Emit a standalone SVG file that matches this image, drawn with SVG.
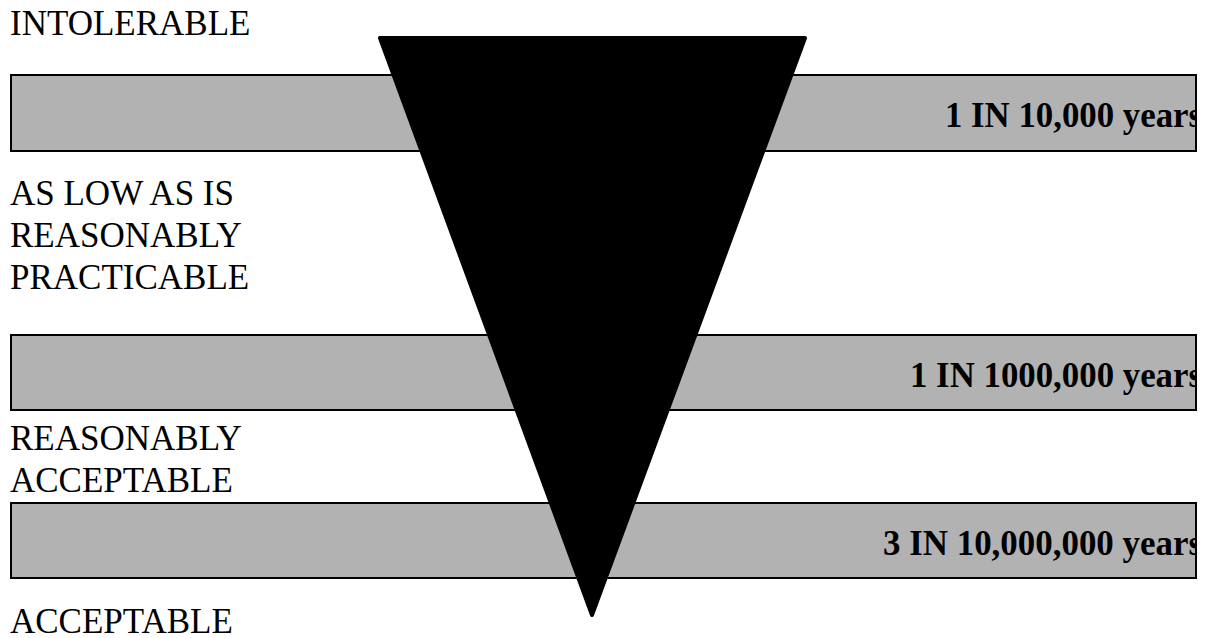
<svg xmlns="http://www.w3.org/2000/svg" width="1208" height="638" viewBox="0 0 1208 638">
<style>
.bar{fill:#b2b2b2;stroke:none}
.barb{fill:none;stroke:#000;stroke-width:2}
.lab{font-family:"Liberation Serif",serif;font-size:35px;fill:#000}
.val{font-family:"Liberation Serif",serif;font-size:35px;font-weight:bold;fill:#000}
</style>
<rect width="1208" height="638" fill="#fff"/>
<g id="bar1"><rect class="bar" x="11" y="75" width="1185" height="76"/></g>
<g id="bar2"><rect class="bar" x="11" y="335" width="1185" height="75"/></g>
<g id="bar3"><rect class="bar" x="11" y="503" width="1185" height="75"/></g>
<g id="triangle"><polygon points="380,38 805,38 592,615" fill="#000" stroke="#000" stroke-width="4" stroke-linejoin="round"/></g>
<g id="values">
<text class="val" x="945" y="127" textLength="257" lengthAdjust="spacingAndGlyphs">1 IN 10,000 years</text>
<text class="val" x="910" y="387" textLength="292" lengthAdjust="spacingAndGlyphs">1 IN 1000,000 years</text>
<text class="val" x="883" y="555" textLength="319" lengthAdjust="spacingAndGlyphs">3 IN 10,000,000 years</text>
</g>
<g id="borders">
<rect class="barb" x="11" y="75" width="1185" height="76"/>
<rect class="barb" x="11" y="335" width="1185" height="75"/>
<rect class="barb" x="11" y="503" width="1185" height="75"/>
</g>
<rect x="1197" y="60" width="11" height="530" fill="#fff"/>
<g id="labels">
<text class="lab" x="10" y="35">INTOLERABLE</text>
<text class="lab" x="10" y="205">AS LOW AS IS</text>
<text class="lab" x="10" y="247">REASONABLY</text>
<text class="lab" x="10" y="289">PRACTICABLE</text>
<text class="lab" x="10" y="450">REASONABLY</text>
<text class="lab" x="10" y="492">ACCEPTABLE</text>
<text class="lab" x="10" y="633">ACCEPTABLE</text>
</g>
</svg>
